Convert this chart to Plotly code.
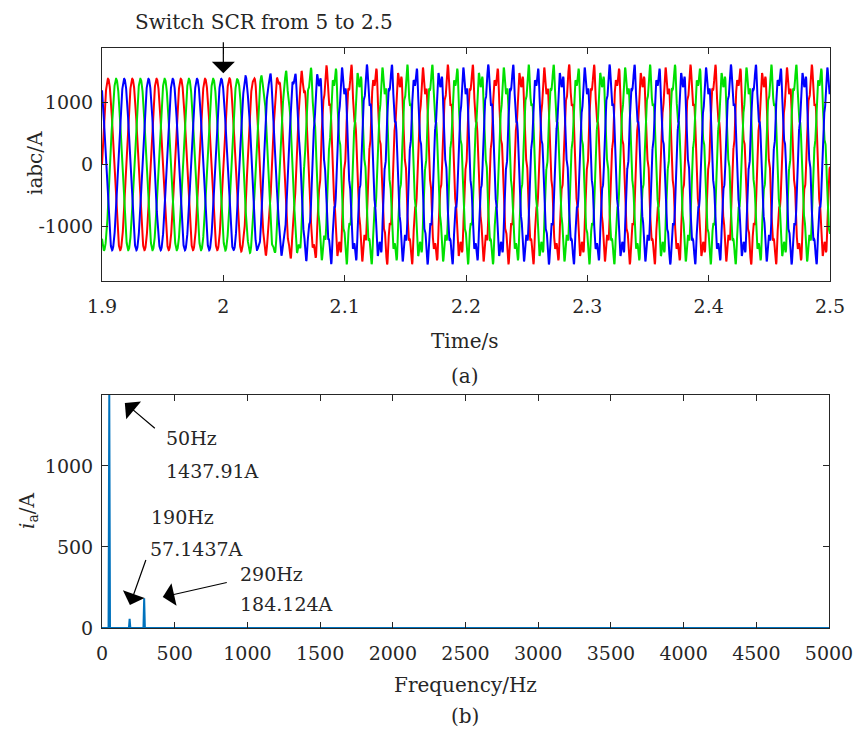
import numpy as np
import plotly.graph_objects as go

# ---------------- data ----------------
# (a) three-phase currents (fundamental + components from panel b)
t_start, t_end, t_step = 1.9, 2.5, 1e-4
switch_time = 2.0
env_t = [1.9, 2.0, 2.03, 2.06, 2.09, 2.5]               # envelope knots (s)
env_fund = [1380, 1380, 1400, 1420, 1437.91, 1437.91]   # fundamental amplitude (A)
env_harm = [0, 0, 0.3, 0.65, 1.0, 1.0]                  # share of oscillation components
harm_freq = [50, 190, 290]                              # Hz
harm_amp = [1437.91, 57.1437, 184.124]                  # A
red_peak_time = 1.905                                   # first phase-a peak (s)
phase_names = ["ia", "ib", "ic"]
phase_colors = ["#FF0000", "#00E000", "#0000FF"]

# (b) spectrum of ia
spec_freq = [0, 45, 50, 55, 185, 190, 195, 285, 290, 295, 5000]
spec_amp = [0, 0, 1437.91, 0, 0, 57.1437, 0, 0, 184.124, 0, 0]

top_xticks = [1.9, 2.0, 2.1, 2.2, 2.3, 2.4, 2.5]
top_xtext = ["1.9", "2", "2.1", "2.2", "2.3", "2.4", "2.5"]
top_yticks = [-1000, 0, 1000]
top_ytext = ["-1000", "0", "1000"]
bot_xticks = list(range(0, 5001, 500))
bot_yticks = [0, 500, 1000]

# ---------------- build waveform ----------------
t = np.arange(t_start, t_end + t_step / 2, t_step)
F = np.interp(t, env_t, env_fund)
H = np.interp(t, env_t, env_harm)
w = 2 * np.pi
shifts_fund = [0, -2 * np.pi / 3, 2 * np.pi / 3]
shifts_190 = [0, 2 * np.pi / 3, -2 * np.pi / 3]
shifts_290 = [0, -2 * np.pi / 3, 2 * np.pi / 3]

FONT = "DejaVu Serif"
INK = "#262626"
fig = go.Figure()
for k in range(3):
    y = (F * np.cos(w * harm_freq[0] * (t - red_peak_time) + shifts_fund[k])
         + H * harm_amp[1] * np.cos(w * harm_freq[1] * (t - 2.0) + 0.8 + shifts_190[k])
         + H * harm_amp[2] * np.cos(w * harm_freq[2] * (t - 2.0) + 2.0 + shifts_290[k]))
    fig.add_trace(go.Scatter(x=t, y=y, mode="lines", name=phase_names[k],
                             line=dict(color=phase_colors[k], width=2),
                             xaxis="x", yaxis="y", showlegend=False))

fig.add_trace(go.Scatter(x=spec_freq, y=spec_amp, mode="lines",
                         line=dict(color="#0072BD", width=2),
                         xaxis="x2", yaxis="y2", showlegend=False))

W, Hh = 856, 733
def px(x):
    return x / W
def py(y):
    return 1 - y / Hh

axis_common = dict(showgrid=False, zeroline=False, showline=True, linecolor=INK,
                   linewidth=1, mirror="ticks", ticks="inside", ticklen=6,
                   tickcolor=INK, automargin=False,
                   tickfont=dict(family=FONT, size=19, color=INK))

fig.update_layout(
    width=W, height=Hh, autosize=False,
    margin=dict(l=0, r=0, t=0, b=0, autoexpand=False),
    paper_bgcolor="white", plot_bgcolor="white",
    xaxis=dict(domain=[px(102), px(830)], anchor="y", range=[1.9, 2.5],
               tickvals=top_xticks, ticktext=top_xtext, ticklabelstandoff=8,
               **axis_common),
    yaxis=dict(domain=[py(281), py(48)], anchor="x", range=[-1875, 1875],
               tickvals=top_yticks, ticktext=top_ytext, ticklabelstandoff=4,
               **axis_common),
    xaxis2=dict(domain=[px(102), px(829)], anchor="y2", range=[0, 5000],
                tickvals=bot_xticks, ticklabelstandoff=8, **axis_common),
    yaxis2=dict(domain=[py(628), py(395)], anchor="x2", range=[0, 1437.91],
                tickvals=bot_yticks, ticklabelstandoff=4, **axis_common),
)

def label(text, x, y, xanchor="center", size=20, angle=0):
    fig.add_annotation(text=text, x=px(x), y=py(y), xref="paper", yref="paper",
                       xanchor=xanchor, yanchor="middle", showarrow=False,
                       textangle=angle, font=dict(family=FONT, size=size, color=INK))

def arrow(xref, yref, x, y, ax, ay):
    fig.add_annotation(text=" ", x=x, y=y, xref=xref, yref=yref, ax=ax, ay=ay,
                       axref="pixel", ayref="pixel", showarrow=True,
                       font=dict(size=2),
                       arrowhead=1, arrowsize=3.2, arrowwidth=1.2, arrowcolor="black")

# panel (a)
label("Switch SCR from 5 to 2.5", 133, 22, xanchor="left")
arrow("x", "y", switch_time, 1470, 0, -34)
label("iabc/A", 35, 163, angle=-90)
label("Time/s", 465, 341)
label("(a)", 465, 376)

# panel (b)
label("<i>i</i><sub>a</sub>/A", 28, 510, angle=-90)
label("Frequency/Hz", 465, 685)
label("(b)", 465, 716)
label("50Hz", 164, 438, xanchor="left", size=19)
label("1437.91A", 164, 471, xanchor="left", size=19)
arrow("x2", "y2", 157, 1389, 32, 27)
label("190Hz", 149, 517, xanchor="left", size=19)
label("57.1437A", 148, 549, xanchor="left", size=19)
arrow("x2", "y2", 192, 142, 17, -48)
label("290Hz", 238, 574, xanchor="left", size=19)
label("184.124A", 238, 604, xanchor="left", size=19)
arrow("x2", "y2", 418, 191, 66, -15)

fig.write_html("out.html")
